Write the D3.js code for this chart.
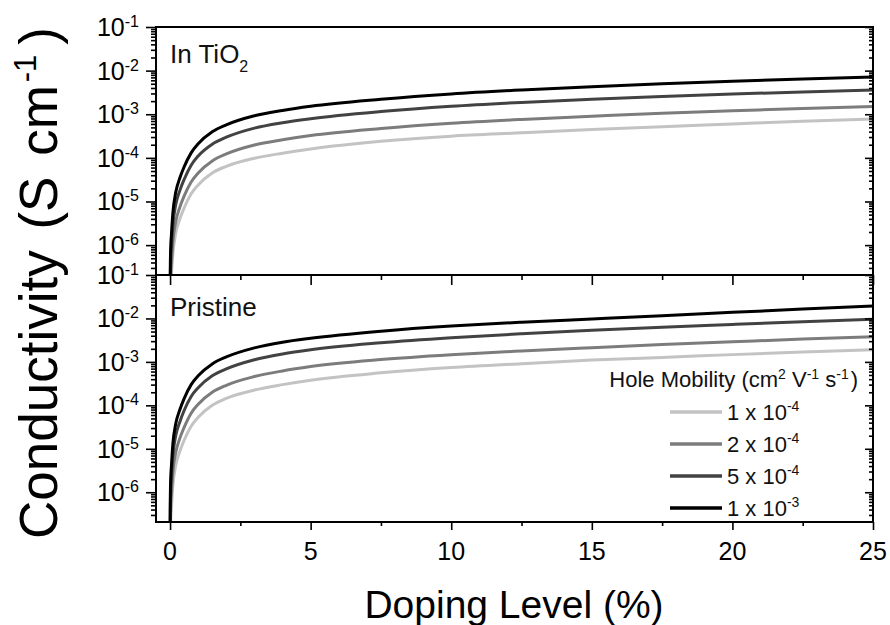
<!DOCTYPE html>
<html>
<head>
<meta charset="utf-8">
<script src="https://cdn.jsdelivr.net/npm/d3@7"></script>
<style>
  html, body { margin: 0; padding: 0; background: #fff; }
  svg { display: block; font-family: "Liberation Sans", Arial, Helvetica, sans-serif; }
</style>
</head>
<body>
<svg id="chart" width="890" height="625"></svg>
<script>
// Doping level (%) at which each conductivity curve is sampled
const doping = [0.0001, 0.001, 0.005, 0.01, 0.02, 0.05, 0.1, 0.2, 0.35, 0.5, 0.75, 1, 1.5, 2, 3, 4, 5, 7.5, 10, 12.5, 15, 17.5, 20, 22.5, 25];

// Hole mobility series (cm^2 V^-1 s^-1)
const mobilityLabels = [
  { mant: "1 x 10", exp: "-4" },
  { mant: "2 x 10", exp: "-4" },
  { mant: "5 x 10", exp: "-4" },
  { mant: "1 x 10", exp: "-3" }
];
const seriesColors = ["#c3c3c3", "#7c7c7c", "#424242", "#000000"];

// Conductivity (S cm^-1), film in TiO2
const tio2Mu1e4 = [1.1e-10, 2.3e-9, 1.7e-8, 4.0e-8, 9.2e-8, 2.1e-7, 6.3e-7, 1.84e-6, 4.0e-6, 7.1e-6, 1.5e-5, 2.4e-5, 4.5e-5, 6.4e-5, 9.8e-5, 1.28e-4, 1.6e-4, 2.4e-4, 3.15e-4, 3.75e-4, 4.45e-4, 5.2e-4, 6.0e-4, 6.9e-4, 7.8e-4];
const tio2Mu2e4 = [2.0e-10, 4.3e-9, 3.2e-8, 7.5e-8, 1.7e-7, 3.9e-7, 1.2e-6, 3.4e-6, 7.5e-6, 1.33e-5, 2.8e-5, 4.5e-5, 8.5e-5, 1.23e-4, 1.97e-4, 2.6e-4, 3.25e-4, 4.7e-4, 6.2e-4, 7.6e-4, 9.0e-4, 1.06e-3, 1.2e-3, 1.36e-3, 1.5e-3];
const tio2Mu5e4 = [5.0e-10, 1.0e-8, 7.8e-8, 1.8e-7, 4.2e-7, 9.4e-7, 2.9e-6, 8.3e-6, 1.8e-5, 3.2e-5, 6.8e-5, 1.1e-4, 2.05e-4, 2.97e-4, 4.8e-4, 6.4e-4, 7.9e-4, 1.15e-3, 1.52e-3, 1.87e-3, 2.22e-3, 2.55e-3, 2.9e-3, 3.25e-3, 3.6e-3];
const tio2Mu1e3 = [1.0e-9, 2.0e-8, 1.5e-7, 3.5e-7, 8.0e-7, 1.8e-6, 5.5e-6, 1.6e-5, 3.5e-5, 6.2e-5, 1.3e-4, 2.1e-4, 3.95e-4, 5.7e-4, 9.2e-4, 1.22e-3, 1.52e-3, 2.2e-3, 2.92e-3, 3.6e-3, 4.28e-3, 4.98e-3, 5.7e-3, 6.4e-3, 7.1e-3];

// Conductivity (S cm^-1), pristine film
const pristMu1e4 = [2.5e-10, 5.0e-9, 3.9e-8, 8.8e-8, 2.0e-7, 4.6e-7, 1.43e-6, 4.1e-6, 8.8e-6, 1.57e-5, 3.3e-5, 5.3e-5, 1.0e-4, 1.45e-4, 2.25e-4, 3.0e-4, 3.8e-4, 5.6e-4, 7.4e-4, 9.1e-4, 1.1e-3, 1.27e-3, 1.47e-3, 1.68e-3, 1.9e-3];
const pristMu2e4 = [5.0e-10, 1.0e-8, 7.7e-8, 1.76e-7, 4.1e-7, 9.2e-7, 2.9e-6, 8.1e-6, 1.76e-5, 3.1e-5, 6.6e-5, 1.06e-4, 2.0e-4, 2.9e-4, 4.6e-4, 6.2e-4, 7.8e-4, 1.13e-3, 1.46e-3, 1.78e-3, 2.12e-3, 2.5e-3, 2.9e-3, 3.35e-3, 3.8e-3];
const pristMu5e4 = [1.2e-9, 2.4e-8, 1.85e-7, 4.2e-7, 9.8e-7, 2.2e-6, 6.9e-6, 1.96e-5, 4.2e-5, 7.6e-5, 1.6e-4, 2.55e-4, 4.8e-4, 6.9e-4, 1.12e-3, 1.52e-3, 1.9e-3, 2.75e-3, 3.6e-3, 4.45e-3, 5.35e-3, 6.3e-3, 7.3e-3, 8.4e-3, 9.6e-3];
const pristMu1e3 = [2.3e-9, 4.6e-8, 3.5e-7, 8.0e-7, 1.85e-6, 4.2e-6, 1.3e-5, 3.7e-5, 8.0e-5, 1.43e-4, 3.0e-4, 4.8e-4, 9.0e-4, 1.3e-3, 2.1e-3, 2.84e-3, 3.5e-3, 5.1e-3, 6.7e-3, 8.2e-3, 9.7e-3, 1.15e-2, 1.38e-2, 1.64e-2, 1.94e-2];

const xTicks = [0, 5, 10, 15, 20, 25];
const decadeExps = [-1, -2, -3, -4, -5, -6];

const panels = [
  { name: "In TiO", sub: "2", series: [tio2Mu1e4, tio2Mu2e4, tio2Mu5e4, tio2Mu1e3] },
  { name: "Pristine", sub: "", series: [pristMu1e4, pristMu2e4, pristMu5e4, pristMu1e3] }
];

// ---- layout ----
const svg = d3.select("#chart");
const left = 156, right = 873;
const panelBox = [ { top: 27, bottom: 275 }, { top: 275, bottom: 522 } ];
const yMin = Math.pow(10, -6.685), yMax = 0.1;
const font = 25, supFont = 16;

const x = d3.scaleLinear().domain([-0.5, 25]).range([left, right]);

// every 1..9 x 10^k value inside the y domain, for minor ticks
const logTicks = [];
for (let e = -7; e <= -1; e++) {
  for (let m = 1; m <= 9; m++) {
    const v = m * Math.pow(10, e);
    if (v >= yMin * 0.999 && v <= yMax * 1.001) logTicks.push(v);
  }
}
const isDecade = v => Math.abs(Math.log10(v) - Math.round(Math.log10(v))) < 1e-9;

panels.forEach((p, i) => {
  const box = panelBox[i];
  const y = d3.scaleLog().domain([yMin, yMax]).range([box.bottom, box.top]);
  const g = svg.append("g");

  // clip region for the curves
  const clipId = "clip" + i;
  svg.append("defs").append("clipPath").attr("id", clipId)
    .append("rect").attr("x", left).attr("y", box.top)
    .attr("width", right - left).attr("height", box.bottom - box.top);

  const line = d3.line()
    .x((d, k) => x(doping[k]))
    .y(d => y(d))
    .curve(d3.curveMonotoneX);

  g.append("g").attr("clip-path", `url(#${clipId})`)
    .selectAll("path").data(p.series).join("path")
    .attr("d", d => line(d))
    .attr("fill", "none")
    .attr("stroke", (d, k) => seriesColors[k])
    .attr("stroke-width", 3)
    .attr("stroke-linejoin", "round");

  // left axis: outward ticks, long at decades
  const yl = g.append("g").attr("transform", `translate(${left},0)`)
    .call(d3.axisLeft(y).tickValues(logTicks).tickFormat("").tickSizeOuter(0));
  yl.select(".domain").remove();
  yl.selectAll(".tick line")
    .attr("x2", d => isDecade(d) ? -10 : -5)
    .attr("stroke", "#000").attr("stroke-width", 1.6);

  // right axis: inward ticks
  const yr = g.append("g").attr("transform", `translate(${right},0)`)
    .call(d3.axisRight(y).tickValues(logTicks).tickFormat("").tickSizeOuter(0));
  yr.select(".domain").remove();
  yr.selectAll(".tick line")
    .attr("x2", d => isDecade(d) ? -8 : -4)
    .attr("stroke", "#000").attr("stroke-width", 1.6);

  // decade labels: 10 with a superscript exponent
  decadeExps.forEach(e => {
    const ty = y(Math.pow(10, e));
    const t = g.append("text")
      .attr("x", 139).attr("y", ty + 9)
      .attr("text-anchor", "end")
      .attr("font-size", font).attr("fill", "#000");
    t.append("tspan").text("10");
    t.append("tspan").attr("dy", -9).attr("font-size", supFont).text(String(e));
  });

  // bottom x axis of the panel: outward ticks
  const xMinor = d3.range(0, 25.01, 2.5);
  const xa = g.append("g").attr("transform", `translate(0,${box.bottom})`)
    .call(d3.axisBottom(x).tickValues(xMinor).tickFormat("").tickSizeOuter(0));
  xa.select(".domain").remove();
  xa.selectAll(".tick line")
    .attr("y2", d => (d % 5 === 0) ? (i === 0 ? 10 : 8) : (i === 0 ? 5 : 4))
    .attr("stroke", "#000").attr("stroke-width", 1.6);

  if (i === 1) {
    xTicks.forEach(v => {
      g.append("text").attr("x", x(v)).attr("y", box.bottom + 38)
        .attr("text-anchor", "middle").attr("font-size", font).text(v);
    });
  }

  // frame
  g.append("rect").attr("x", left).attr("y", box.top)
    .attr("width", right - left).attr("height", box.bottom - box.top)
    .attr("fill", "none").attr("stroke", "#000").attr("stroke-width", 2);

  // panel name
  const pl = g.append("text").attr("x", 170).attr("y", box.top + (i === 0 ? 36 : 41))
    .attr("font-size", 26).attr("fill", "#111");
  pl.append("tspan").text(p.name);
  if (p.sub) pl.append("tspan").attr("dy", 9).attr("font-size", supFont).text(p.sub);
});

// legend inside lower panel
const leg = svg.append("g");
const title = leg.append("text").attr("x", 858).attr("y", 387)
  .attr("text-anchor", "end").attr("font-size", 22).attr("fill", "#111");
title.append("tspan").text("Hole Mobility (cm");
title.append("tspan").attr("dy", -8).attr("font-size", 14).text("2");
title.append("tspan").attr("dy", 8).text(" V");
title.append("tspan").attr("dy", -8).attr("font-size", 14).text("-1");
title.append("tspan").attr("dy", 8).text(" s");
title.append("tspan").attr("dy", -8).attr("font-size", 14).text("-1");
title.append("tspan").attr("dy", 8).attr("dx", 2).text(")");

mobilityLabels.forEach((m, k) => {
  const ly = 412 + k * 32;
  leg.append("line").attr("x1", 670).attr("x2", 722).attr("y1", ly).attr("y2", ly)
    .attr("stroke", seriesColors[k]).attr("stroke-width", 3.5);
  const t = leg.append("text").attr("x", 727).attr("y", ly + 8)
    .attr("font-size", 22).attr("fill", "#111");
  t.append("tspan").text(m.mant);
  t.append("tspan").attr("dy", -9).attr("font-size", 14).text(m.exp);
});

// axis titles
svg.append("text").attr("x", 514).attr("y", 618)
  .attr("text-anchor", "middle").attr("font-size", 39).text("Doping Level (%)");

const yt = svg.append("text")
  .attr("transform", "translate(57,283) rotate(-90)")
  .attr("text-anchor", "middle").attr("font-size", 53)
  .attr("word-spacing", 6);
yt.append("tspan").text("Conductivity (S cm");
yt.append("tspan").attr("dx", 3).attr("dy", -21).attr("font-size", 31).text("-1");
yt.append("tspan").attr("dx", 10).attr("dy", 21).text(")");
</script>
</body>
</html>
